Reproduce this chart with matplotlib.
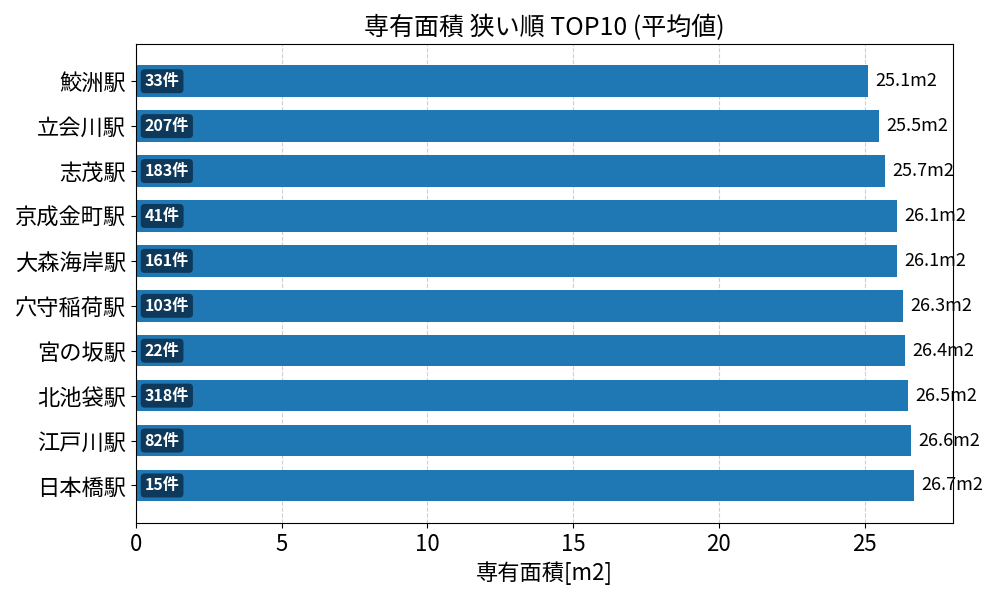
import matplotlib
matplotlib.use("Agg")
import matplotlib.pyplot as plt

plt.rcParams['font.family'] = ['Noto Sans CJK JP', 'DejaVu Sans']

# data, narrowest first (top of chart)
stations = ['鮫洲駅', '立会川駅', '志茂駅', '京成金町駅', '大森海岸駅',
            '穴守稲荷駅', '宮の坂駅', '北池袋駅', '江戸川駅', '日本橋駅']
areas = [25.1, 25.5, 25.7, 26.1, 26.1, 26.3, 26.4, 26.5, 26.6, 26.7]
counts = [33, 207, 183, 41, 161, 103, 22, 318, 82, 15]

fig, ax = plt.subplots(figsize=(10, 6), dpi=100)

ypos = list(range(len(stations)))
ax.barh(ypos, areas, height=0.7, color='#1f77b4', zorder=2)
ax.invert_yaxis()
ax.set_yticks(ypos)
ax.set_yticklabels(stations, fontsize=16)
ax.tick_params(axis='x', labelsize=16)

ax.set_xlim(0, max(areas) * 1.05)
ax.grid(axis='x', linestyle='--', alpha=0.6, zorder=0)

for y, v, c in zip(ypos, areas, counts):
    ax.text(v + 0.25, y, f'{v:.1f}m2', va='center', ha='left', fontsize=13, clip_on=False)
    ax.text(0.3, y, f'{c}件', va='center', ha='left', fontsize=11.5, color='white',
            fontweight='bold',
            bbox=dict(boxstyle='round,pad=0.25', facecolor='#0d2f4a', edgecolor='none', alpha=0.85))

ax.set_title('専有面積 狭い順 TOP10 (平均値)', fontsize=18)
ax.set_xlabel('専有面積[m2]', fontsize=16)

plt.tight_layout()
plt.savefig('out.png')
plt.close()
